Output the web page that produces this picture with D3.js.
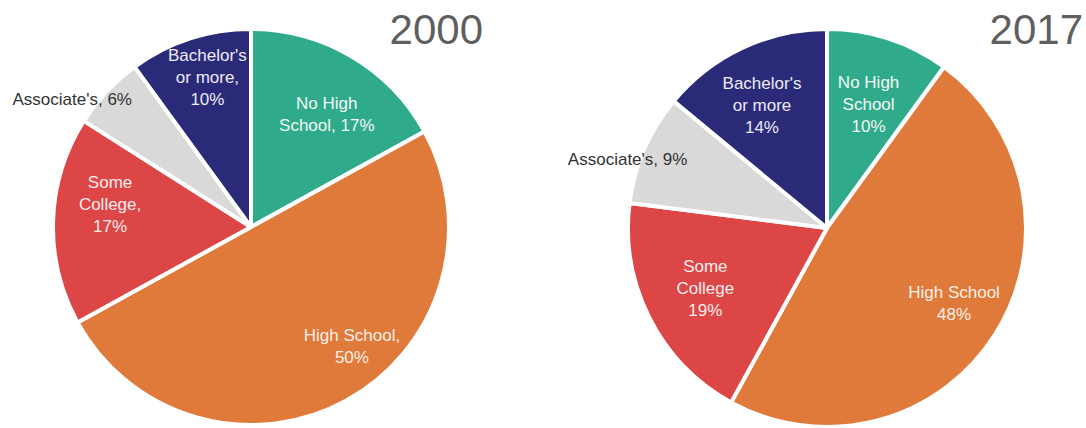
<!DOCTYPE html>
<html>
<head>
<meta charset="utf-8">
<script src="https://cdn.jsdelivr.net/npm/d3@7"></script>
<style>
  html, body { margin: 0; padding: 0; background: #ffffff; }
  svg { display: block; }
</style>
</head>
<body>
<svg id="chart" width="1086" height="428"></svg>
<script>
// Educational attainment shares, by year
const categories = ["No High School", "High School", "Some College", "Associate's", "Bachelor's or more"];
const years = ["2000", "2017"];
const values2000 = [17, 50, 17, 6, 10];
const values2017 = [10, 48, 19, 9, 14];

// Label lines per slice (each year wrote them a bit differently)
const labels2000 = [["No High", "School, 17%"], ["High School,", "50%"], ["Some", "College,", "17%"], ["Associate's, 6%"], ["Bachelor's", "or more,", "10%"]];
const labels2017 = [["No High", "School", "10%"], ["High School", "48%"], ["Some", "College", "19%"], ["Associate's, 9%"], ["Bachelor's", "or more", "14%"]];

const colors = ["#2fab8b", "#e07a3b", "#dd4647", "#d9d9d9", "#2b2a78"];
const labelColors = ["#f3f7f5", "#fbefe6", "#fbecec", "#333333", "#ecebf6"];

const svg = d3.select("#chart");
const color = d3.scaleOrdinal().domain(categories).range(colors);
const textColor = d3.scaleOrdinal().domain(categories).range(labelColors);

const pies = [
  { year: years[0], values: values2000, labels: labels2000, cx: 251, cy: 227, r: 198, titleX: 483,
    nudge: [[4, 9], [33, -4], [0, -18], [-76, -31], [0, -15]] },
  { year: years[1], values: values2017, labels: labels2017, cx: 827, cy: 228, r: 199, titleX: 1083,
    nudge: [[-2, 11], [8, 0], [4, -4], [-70, -13], [-5, 5]] }
];

const pie = d3.pie().sort(null).value(d => d.value);
const lineH = 22;

pies.forEach(p => {
  const data = categories.map((c, i) => ({ category: c, value: p.values[i], lines: p.labels[i], nudge: p.nudge[i] }));
  const arcs = pie(data);
  const arc = d3.arc().innerRadius(0).outerRadius(p.r);
  const labelArc = d3.arc().innerRadius(141).outerRadius(141);

  const g = svg.append("g").attr("transform", `translate(${p.cx},${p.cy})`);

  g.selectAll("path")
    .data(arcs)
    .join("path")
    .attr("d", arc)
    .attr("fill", d => color(d.data.category))
    .attr("stroke", "#ffffff")
    .attr("stroke-width", 4)
    .attr("stroke-linejoin", "round");

  const lbl = g.selectAll("text.slice-label")
    .data(arcs)
    .join("text")
    .attr("class", "slice-label")
    .attr("text-anchor", "middle")
    .attr("font-family", "'Liberation Sans', Arial, sans-serif")
    .attr("font-size", 17)
    .attr("fill", d => textColor(d.data.category))
    .attr("transform", d => {
      const [x, y] = labelArc.centroid(d);
      return `translate(${x + d.data.nudge[0]},${y + d.data.nudge[1]})`;
    });

  lbl.selectAll("tspan")
    .data(d => d.data.lines.map((t, i, a) => ({ t, i, n: a.length })))
    .join("tspan")
    .attr("x", 0)
    .attr("y", d => (d.i - (d.n - 1) / 2) * lineH)
    .attr("dominant-baseline", "central")
    .text(d => d.t);

  svg.append("text")
    .attr("x", p.titleX)
    .attr("y", 44)
    .attr("text-anchor", "end")
    .attr("font-family", "'Liberation Sans', Arial, sans-serif")
    .attr("font-size", 42)
    .attr("fill", "#5f5f5f")
    .text(p.year);
});
</script>
</body>
</html>
